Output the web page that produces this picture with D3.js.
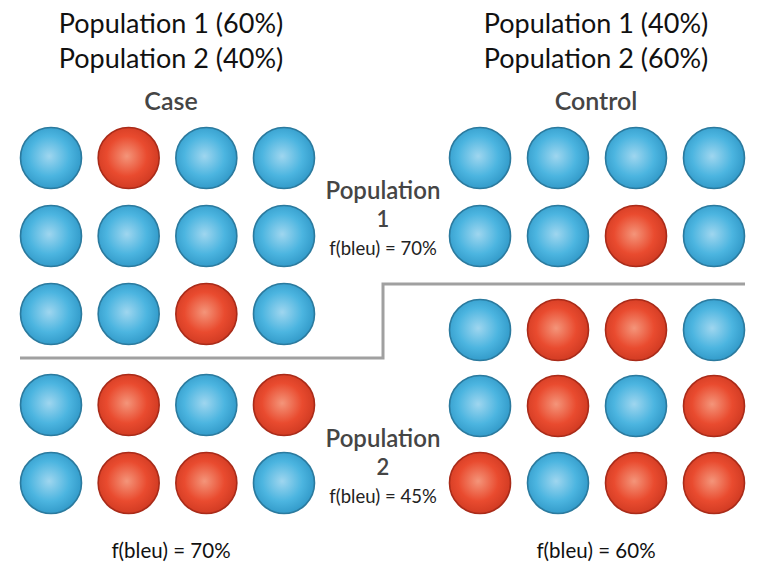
<!DOCTYPE html>
<html>
<head>
    <meta charset="utf-8">
    <title>Case / Control</title>
    <script src="https://cdnjs.cloudflare.com/ajax/libs/d3/7.8.5/d3.min.js"></script>
    <style>
        body { margin: 0; background: #fff; }
        text { font-family: Lato, "Open Sans", sans-serif; }
    </style>
</head>

<body>

<script type="text/javascript">
    var width = 760,
        height = 563;

    // data
    var groups = ["Case", "Control"];
    var caseHeader = ["Population 1 (60%)", "Population 2 (40%)"];
    var controlHeader = ["Population 1 (40%)", "Population 2 (60%)"];
    var rowKeys = ["p1a", "p1b", "p1c", "p2a", "p2b"];
    var caseRows = [ // B = bleu, R = rouge
        ["B", "R", "B", "B"],
        ["B", "B", "B", "B"],
        ["B", "B", "R", "B"],
        ["B", "R", "B", "R"],
        ["B", "R", "R", "B"]
    ];
    var controlRows = [
        ["B", "B", "B", "B"],
        ["B", "B", "R", "B"],
        ["B", "R", "R", "B"],
        ["B", "R", "B", "R"],
        ["R", "B", "R", "R"]
    ];
    var popLabels = ["Population", "Population"];
    var popNumbers = ["1", "2"];
    var popFreq = ["f(bleu) = 70%", "f(bleu) = 45%"];
    var groupFreq = ["f(bleu) = 70%", "f(bleu) = 60%"];

    var svg = d3.select("body").append("svg")
        .attr("width", width)
        .attr("height", height);

    var defs = svg.append("defs");
    function grad(id, stops) {
        var g = defs.append("radialGradient").attr("id", id)
            .attr("cx", "47%").attr("cy", "47%").attr("r", "55%");
        stops.forEach(function (s) {
            g.append("stop").attr("offset", s[0]).attr("stop-color", s[1]);
        });
    }
    grad("gB", [["0%", "#9fd6ef"], ["60%", "#4cb5e0"], ["100%", "#3199c8"]]);
    grad("gR", [["0%", "#f4957a"], ["60%", "#e94b2f"], ["100%", "#d03a22"]]);

    var fill = d3.scaleOrdinal().domain(["B", "R"]).range(["url(#gB)", "url(#gR)"]);
    var stroke = d3.scaleOrdinal().domain(["B", "R"]).range(["#2b7a9e", "#a92b19"]);

    // column and row scales per group
    var xScale = {
        Case: d3.scalePoint().domain([0, 1, 2, 3]).range([51, 284]),
        Control: d3.scalePoint().domain([0, 1, 2, 3]).range([480, 714])
    };
    var yScale = {
        Case: d3.scaleOrdinal().domain(rowKeys).range([158, 236, 314, 405, 483]),
        Control: d3.scaleOrdinal().domain(rowKeys).range([158, 236, 330, 406, 483])
    };
    var rowsBy = { Case: caseRows, Control: controlRows };
    var headerBy = { Case: caseHeader, Control: controlHeader };
    var centerX = { Case: 171, Control: 596 };

    groups.forEach(function (gName, gi) {
        var cells = [];
        rowsBy[gName].forEach(function (row, ri) {
            row.forEach(function (c, ci) {
                cells.push({ row: rowKeys[ri], col: ci, c: c });
            });
        });

        var g = svg.append("g").attr("class", "group-" + gName);

        g.selectAll("ellipse")
            .data(cells)
            .enter()
            .append("ellipse")
            .attr("cx", function (d) { return xScale[gName](d.col); })
            .attr("cy", function (d) { return yScale[gName](d.row); })
            .attr("rx", 30.5)
            .attr("ry", 30.5)
            .attr("fill", function (d) { return fill(d.c); })
            .attr("stroke", function (d) { return stroke(d.c); })
            .attr("stroke-width", 1.6);

        g.selectAll("text.header")
            .data(headerBy[gName])
            .enter()
            .append("text")
            .attr("class", "header")
            .attr("x", centerX[gName])
            .attr("y", function (d, i) { return 33 + i * 35; })
            .attr("text-anchor", "middle")
            .attr("font-size", 27)
            .attr("fill", "#111")
            .text(function (d) { return d; });

        g.append("text")
            .attr("x", centerX[gName])
            .attr("y", 110)
            .attr("text-anchor", "middle")
            .attr("font-size", 25)
            .attr("font-weight", 600)
            .attr("fill", "#454545")
            .text(gName);

        g.append("text")
            .attr("x", centerX[gName])
            .attr("y", 558)
            .attr("text-anchor", "middle")
            .attr("font-size", 20.5)
            .attr("fill", "#111")
            .text(groupFreq[gi]);
    });

    // divider between population 1 and 2
    svg.append("path")
        .attr("d", d3.line()([[20, 358], [383, 358], [383, 284], [745, 284]]))
        .attr("fill", "none")
        .attr("stroke", "#a0a0a0")
        .attr("stroke-width", 3);

    // centre labels
    var popY = [199, 447];
    popLabels.forEach(function (lab, i) {
        var t = svg.append("g");
        t.append("text")
            .attr("x", 383).attr("y", popY[i])
            .attr("text-anchor", "middle")
            .attr("font-size", 24).attr("font-weight", 600)
            .attr("fill", "#454545")
            .text(lab);
        t.append("text")
            .attr("x", 383).attr("y", popY[i] + 28)
            .attr("text-anchor", "middle")
            .attr("font-size", 22).attr("font-weight", 600)
            .attr("fill", "#454545")
            .text(popNumbers[i]);
        t.append("text")
            .attr("x", 383).attr("y", popY[i] + 56)
            .attr("text-anchor", "middle")
            .attr("font-size", 18.5)
            .attr("fill", "#222")
            .text(popFreq[i]);
    });
</script>

</body>
</html>
